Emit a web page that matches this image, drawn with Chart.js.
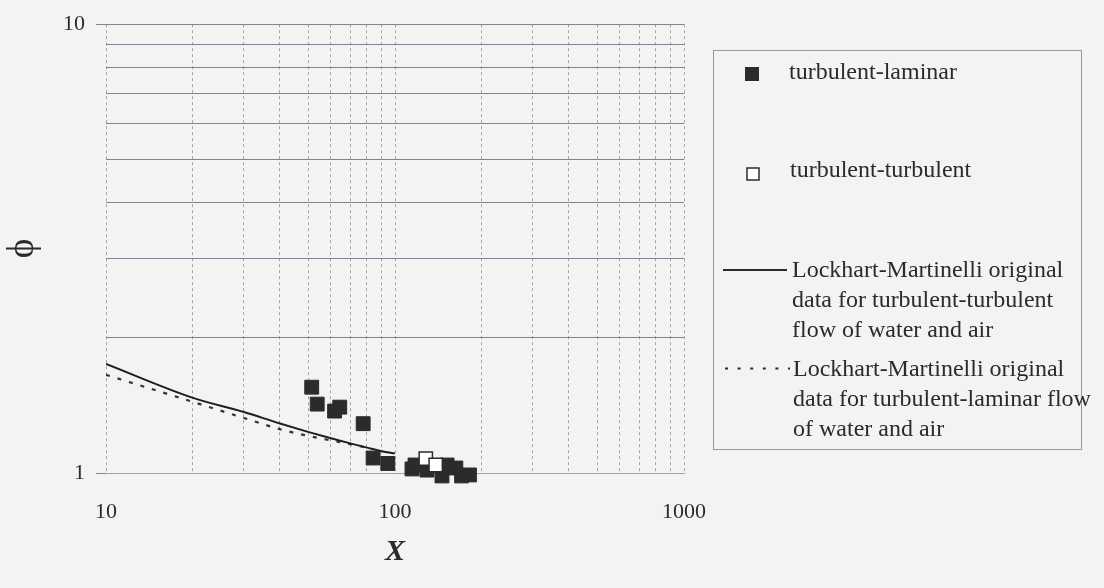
<!DOCTYPE html>
<html>
<head>
<meta charset="utf-8">
<title>φ versus X</title>
<script src="https://cdn.jsdelivr.net/npm/chart.js@4.4.1/dist/chart.umd.min.js"></script>
<style>
  html, body { margin: 0; padding: 0; background: #f3f3f1; }
  #wrap { position: relative; width: 1104px; height: 588px; }
</style>
</head>
<body>
<div id="wrap"><canvas id="chart"></canvas></div>
<script>
// ------------------------------------------------------------
//  Data
// ------------------------------------------------------------
const xTickLabels = [10, 100, 1000]
const yTickLabels = [1, 10]
const xGridValues = [10, 20, 30, 40, 50, 60, 70, 80, 90, 100, 200, 300, 400, 500, 600, 700, 800, 900, 1000]
const yGridValues = [1, 2, 3, 4, 5, 6, 7, 8, 9, 10]

// Lockhart-Martinelli, turbulent-turbulent (solid)
const lmTurbTurbX   = [10, 20, 30, 40, 50, 60, 70, 80, 90, 100]
const lmTurbTurbPhi = [1.75, 1.47, 1.367, 1.289, 1.235, 1.195, 1.164, 1.139, 1.118, 1.106]

// Lockhart-Martinelli, turbulent-laminar (dotted)
const lmTurbLamX   = [10, 20, 30, 40, 50, 60, 70, 80]
const lmTurbLamPhi = [1.655, 1.44, 1.326, 1.252, 1.21, 1.182, 1.16, 1.138]

// measured, turbulent-laminar (filled squares)
const turbLamX   = [51.5, 53.8, 61.8, 64.4, 77.6, 84, 94.4, 114.5, 117.3, 129, 145.4, 151.4, 162.4, 170, 181]
const turbLamPhi = [1.553, 1.424, 1.374, 1.402, 1.288, 1.08, 1.05, 1.021, 1.042, 1.015, 0.985, 1.042, 1.026, 0.985, 0.99]

// measured, turbulent-turbulent (open squares)
const turbTurbX   = [127.8, 138.3]
const turbTurbPhi = [1.077, 1.042]

const legendLabels = [
    ['turbulent-laminar'],
    ['turbulent-turbulent'],
    ['Lockhart-Martinelli original', 'data for turbulent-turbulent', 'flow of water and air'],
    ['Lockhart-Martinelli original', 'data for turbulent-laminar flow', 'of water and air'],
]

const SERIF = "'Liberation Serif', 'Times New Roman', serif"
const INK   = '#2b2b2b'

const pts = (xs, ys) => xs.map((x, i) => ({ x, y: ys[i] }))
const isLabelled = (v, list) => list.some(t => Math.abs(v - t) < 1e-6 * t)

// ------------------------------------------------------------
//  Legend drawn in a box at the right, like the original
// ------------------------------------------------------------
const boxLegend = {
    id: 'boxLegend',
    afterDraw(chart) {
        const ctx = chart.ctx
        ctx.save()

        ctx.strokeStyle = '#9a9a9a'
        ctx.lineWidth = 1
        ctx.strokeRect(713.5, 50.5, 368, 399)

        ctx.font = `24px ${SERIF}`
        ctx.textBaseline = 'alphabetic'
        ctx.textAlign = 'left'

        // filled square
        ctx.fillStyle = INK
        ctx.fillRect(745, 67, 14, 14)
        ctx.fillText(legendLabels[0][0], 789, 79)

        // open square
        ctx.fillStyle = '#ffffff'
        ctx.fillRect(747, 168, 12, 12)
        ctx.strokeStyle = INK
        ctx.lineWidth = 1.5
        ctx.strokeRect(747, 168, 12, 12)
        ctx.fillStyle = INK
        ctx.fillText(legendLabels[1][0], 790, 177)

        // solid line
        ctx.lineWidth = 1.8
        ctx.beginPath()
        ctx.moveTo(723, 270)
        ctx.lineTo(787, 270)
        ctx.stroke()
        legendLabels[2].forEach((t, i) => ctx.fillText(t, 792, 277 + i * 29.8))

        // dotted line
        ctx.setLineDash([3, 9.6])
        ctx.beginPath()
        ctx.moveTo(725, 368.5)
        ctx.lineTo(790, 368.5)
        ctx.stroke()
        ctx.setLineDash([])
        legendLabels[3].forEach((t, i) => ctx.fillText(t, 793, 376 + i * 30.2))

        ctx.restore()
    }
}

// ------------------------------------------------------------
//  Chart
// ------------------------------------------------------------
new Chart(document.getElementById('chart'), {
    type: 'scatter',
    data: {
        datasets: [
            {
                label: 'turbulent-turbulent',
                data: pts(turbTurbX, turbTurbPhi),
                pointStyle: 'rect',
                pointRadius: 9.4,
                backgroundColor: '#ffffff',
                borderColor: INK,
                borderWidth: 1.5,
                clip: false,
                order: 0,
            },
            {
                label: 'turbulent-laminar',
                data: pts(turbLamX, turbLamPhi),
                pointStyle: 'rect',
                pointRadius: 9.8,
                backgroundColor: INK,
                borderColor: INK,
                borderWidth: 1,
                clip: false,
                order: 1,
            },
            {
                label: 'LM turbulent-turbulent',
                data: pts(lmTurbTurbX, lmTurbTurbPhi),
                showLine: true,
                pointRadius: 0,
                borderColor: '#1e1e1e',
                borderWidth: 2,
                cubicInterpolationMode: 'monotone',
                order: 2,
            },
            {
                label: 'LM turbulent-laminar',
                data: pts(lmTurbLamX, lmTurbLamPhi),
                showLine: true,
                pointRadius: 0,
                borderColor: '#333333',
                borderWidth: 2.2,
                borderDash: [4, 8],
                cubicInterpolationMode: 'monotone',
                order: 3,
            },
        ]
    },
    options: {
        responsive: true,
        maintainAspectRatio: false,
        animation: false,
        layout: { padding: { top: 22, right: 420, left: 0, bottom: 0 } },
        plugins: {
            legend:  { display: false },
            tooltip: { enabled: false },
        },
        scales: {
            x: {
                type: 'logarithmic',
                min: 10,
                max: 1000,
                afterBuildTicks: s => { s.ticks = xGridValues.map(value => ({ value })) },
                afterFit: s => { s.height = 115 },
                grid: {
                    color: '#a3a3a3',
                    lineWidth: 1,
                    drawTicks: false,
                },
                // in v4 the border dash also dashes the grid lines
                border: { color: '#a3a3a3', width: 1, dash: [3, 3] },
                ticks: {
                    autoSkip: false,
                    maxRotation: 0,
                    padding: 26,
                    color: INK,
                    font: { family: SERIF, size: 22 },
                    callback: v => isLabelled(v, xTickLabels) ? String(v) : '',
                },
                title: {
                    display: true,
                    text: 'X',
                    color: INK,
                    font: { family: SERIF, size: 30, style: 'italic', weight: 'bold' },
                    padding: { top: 0, bottom: 18 },
                },
            },
            y: {
                type: 'logarithmic',
                min: 1,
                max: 10,
                afterBuildTicks: s => { s.ticks = yGridValues.map(value => ({ value })) },
                afterFit: s => { s.width = 106 },
                grid: {
                    color: '#7f8590',
                    lineWidth: 1,
                    tickLength: 10,
                    tickColor: c => isLabelled(c.tick.value, yTickLabels) ? '#7f8590' : 'rgba(0,0,0,0)',
                },
                border: { display: false },
                ticks: {
                    autoSkip: false,
                    padding: 11,
                    color: INK,
                    font: { family: SERIF, size: 22 },
                    callback: v => isLabelled(v, yTickLabels) ? String(v) : '',
                },
                title: {
                    display: true,
                    text: 'ϕ',
                    color: INK,
                    font: { family: SERIF, size: 37 },
                    padding: { top: 1, bottom: 0 },
                },
            },
        },
    },
    plugins: [boxLegend],
})
</script>
</body>
</html>
